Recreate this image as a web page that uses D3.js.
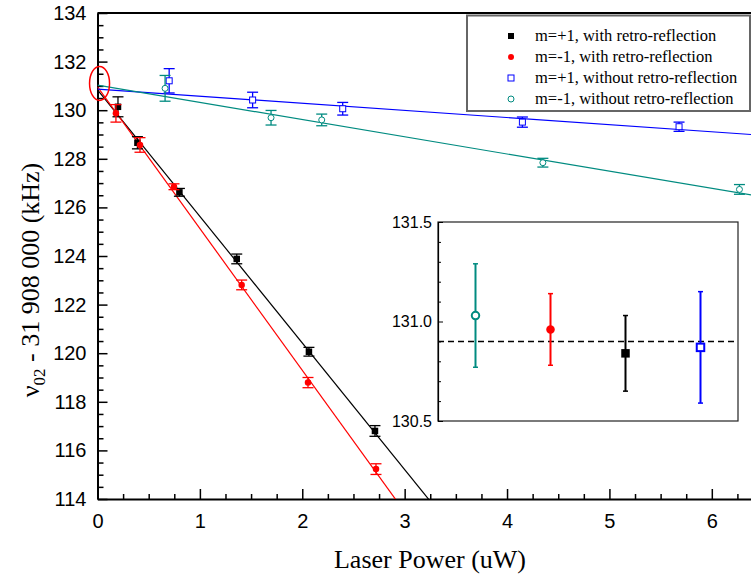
<!DOCTYPE html>
<html>
<head>
<meta charset="utf-8">
<script src="https://cdn.jsdelivr.net/npm/d3@7"></script>
<style>
body { margin: 0; background: #fff; }
</style>
</head>
<body>
<script>
var w = 751;
var h = 578;

// m=+1, with retro-reflection
var powerPlusRetro = [0.20, 0.39, 0.80, 1.36, 2.065, 2.71];
var freqPlusRetro = [130.14, 128.66, 126.62, 123.88, 120.06, 116.80];
var errPlusRetro = [0.41, 0.25, 0.16, 0.20, 0.18, 0.22];

// m=-1, with retro-reflection
var powerMinusRetro = [0.18, 0.415, 0.747, 1.408, 2.056, 2.72];
var freqMinusRetro = [129.87, 128.57, 126.85, 122.81, 118.79, 115.23];
var errMinusRetro = [0.36, 0.30, 0.12, 0.20, 0.21, 0.22];

// m=+1, without retro-reflection
var powerPlusNoRetro = [0.70, 1.515, 2.395, 4.15, 5.68];
var freqPlusNoRetro = [131.21, 130.42, 130.06, 129.51, 129.32];
var errPlusNoRetro = [0.50, 0.32, 0.26, 0.21, 0.19];

// m=-1, without retro-reflection
var powerMinusNoRetro = [0.66, 1.695, 2.19, 4.35, 6.27];
var freqMinusNoRetro = [130.90, 129.69, 129.60, 127.84, 126.74];
var errMinusNoRetro = [0.53, 0.30, 0.24, 0.18, 0.20];

var seriesNames = ["m=+1, with retro-reflection", "m=-1, with retro-reflection",
  "m=+1, without retro-reflection", "m=-1, without retro-reflection"];
var fitSlopes = [-5.21, -5.83, -0.293, -0.708];

// inset: zero-power intercepts
var insetCats = ["m=-1, without retro-reflection", "m=-1, with retro-reflection",
  "m=+1, with retro-reflection", "m=+1, without retro-reflection"];
var insetValues = [131.03, 130.96, 130.84, 130.87];
var insetErrors = [0.26, 0.18, 0.19, 0.28];
var insetMean = 130.90;

var xTicks = [0, 1, 2, 3, 4, 5, 6];
var yTicks = [114, 116, 118, 120, 122, 124, 126, 128, 130, 132, 134];

var colors = ["#000000", "#ff0000", "#0000ff", "#008b80"];
var shapes = ["square", "circle", "square", "circle"];
var filled = [true, true, false, false];

var series = [
  {x: powerPlusRetro, y: freqPlusRetro, e: errPlusRetro},
  {x: powerMinusRetro, y: freqMinusRetro, e: errMinusRetro},
  {x: powerPlusNoRetro, y: freqPlusNoRetro, e: errPlusNoRetro},
  {x: powerMinusNoRetro, y: freqMinusNoRetro, e: errMinusNoRetro}
].map(function(s, i) {
  return {
    name: seriesNames[i], color: colors[i], shape: shapes[i], filled: filled[i],
    slope: fitSlopes[i],
    intercept: insetValues[insetCats.indexOf(seriesNames[i])],
    points: s.x.map(function(x, j) { return {x: x, y: s.y[j], e: s.e[j]}; })
  };
});

var sans = "'Liberation Sans', Arial, sans-serif";
var serif = "'Liberation Serif', 'Times New Roman', serif";

var xScale = d3.scaleLinear().domain([0, 6.5]).range([97.5, 763]);
var yScale = d3.scaleLinear().domain([114, 134]).range([499, 13]);

var svg = d3.select("body").append("svg")
  .attr("width", w)
  .attr("height", h);

svg.append("defs").append("clipPath").attr("id", "plotclip")
  .append("rect")
  .attr("x", xScale(0)).attr("y", yScale(134))
  .attr("width", xScale(6.5) - xScale(0))
  .attr("height", yScale(114) - yScale(134));

// axes
var xAxis = d3.axisBottom(xScale).tickValues(xTicks).tickSize(-10).tickSizeOuter(0)
  .tickPadding(15).tickFormat(d3.format("d"));
var xMinor = d3.axisBottom(xScale)
  .tickValues(d3.range(0, 26).map(function(i) { return i * 0.25; }).filter(function(v) { return v % 1 !== 0; }))
  .tickSize(-5).tickFormat("");
var yAxis = d3.axisLeft(yScale).tickValues(yTicks).tickSize(-10).tickSizeOuter(0)
  .tickPadding(11).tickFormat(d3.format("d"));
var yMinor = d3.axisLeft(yScale)
  .tickValues(d3.range(0, 41).map(function(i) { return 114 + i * 0.5; }).filter(function(v) { return v % 2 !== 0; }))
  .tickSize(-6).tickFormat("");

function styleAxis(g, size) {
  g.selectAll("text").attr("font-family", sans).attr("font-size", size).attr("fill", "#000");
  g.selectAll("line").attr("stroke", "#000").attr("stroke-width", 1.5);
  g.select(".domain").attr("stroke", "#000").attr("stroke-width", 2);
}

svg.append("g").attr("transform", "translate(0,499)").call(xMinor)
  .call(function(g) { g.select(".domain").remove(); g.selectAll("line").attr("stroke-width", 1.5); });
svg.append("g").attr("transform", "translate(97.5,0)").call(yMinor)
  .call(function(g) { g.select(".domain").remove(); g.selectAll("line").attr("stroke-width", 1.5); });
svg.append("g").attr("transform", "translate(0,499)").call(xAxis).call(styleAxis, 20);
svg.append("g").attr("transform", "translate(97.5,0)").call(yAxis).call(styleAxis, 20);

svg.append("line")
  .attr("x1", xScale(0)).attr("x2", xScale(6.5))
  .attr("y1", yScale(134)).attr("y2", yScale(134))
  .attr("stroke", "#000").attr("stroke-width", 2);

// fit lines
svg.append("g").attr("clip-path", "url(#plotclip)")
  .selectAll("line")
  .data(series)
  .enter()
  .append("line")
  .attr("x1", xScale(0))
  .attr("y1", function(d) { return yScale(d.intercept); })
  .attr("x2", xScale(6.5))
  .attr("y2", function(d) { return yScale(d.intercept + d.slope * 6.5); })
  .attr("stroke", function(d) { return d.color; })
  .attr("stroke-width", 1.2);

function drawMarker(g, shape, color, fill, size, sw) {
  if (shape === "square") {
    g.append("rect")
      .attr("x", -size / 2).attr("y", -size / 2)
      .attr("width", size).attr("height", size)
      .attr("fill", fill ? color : "#fff")
      .attr("stroke", color).attr("stroke-width", fill ? 0 : sw);
  } else {
    g.append("circle")
      .attr("r", size / 2)
      .attr("fill", fill ? color : "#fff")
      .attr("stroke", color).attr("stroke-width", fill ? 0 : sw);
  }
}

// points with error bars
series.forEach(function(s) {
  var g = svg.append("g");
  var pts = g.selectAll("g.pt")
    .data(s.points)
    .enter()
    .append("g")
    .attr("class", "pt");
  pts.append("line")
    .attr("x1", function(d) { return xScale(d.x); })
    .attr("x2", function(d) { return xScale(d.x); })
    .attr("y1", function(d) { return yScale(d.y + d.e); })
    .attr("y2", function(d) { return yScale(d.y - d.e); })
    .attr("stroke", s.color).attr("stroke-width", 1.3);
  [1, -1].forEach(function(sg) {
    pts.append("line")
      .attr("x1", function(d) { return xScale(d.x) - 5.5; })
      .attr("x2", function(d) { return xScale(d.x) + 5.5; })
      .attr("y1", function(d) { return yScale(d.y + sg * d.e); })
      .attr("y2", function(d) { return yScale(d.y + sg * d.e); })
      .attr("stroke", s.color).attr("stroke-width", 1.3);
  });
  pts.each(function(d) {
    var m = d3.select(this).append("g")
      .attr("transform", "translate(" + xScale(d.x) + "," + yScale(d.y) + ")");
    drawMarker(m, s.shape, s.color, s.filled, s.filled ? 6.5 : 6, 1);
  });
});

// red ellipse marking the zero-power intercept
svg.append("ellipse")
  .attr("cx", xScale(0.02)).attr("cy", yScale(131.1))
  .attr("rx", 10).attr("ry", 17)
  .attr("fill", "none").attr("stroke", "#ff0000").attr("stroke-width", 1.5);

// legend
var legend = svg.append("g");
legend.append("rect")
  .attr("x", 467).attr("y", 15.5)
  .attr("width", 283).attr("height", 95.5)
  .attr("fill", "#fff").attr("stroke", "#666").attr("stroke-width", 2);
var items = legend.selectAll("g.item")
  .data(series)
  .enter()
  .append("g")
  .attr("class", "item")
  .attr("transform", function(d, i) { return "translate(511," + (36 + i * 21) + ")"; });
items.each(function(d) {
  drawMarker(d3.select(this), d.shape, d.color, d.filled, d.filled ? 6 : 6, 1);
});
items.append("text")
  .attr("x", 24).attr("dy", "0.33em")
  .attr("font-family", serif).attr("font-size", 16.5)
  .text(function(d) { return d.name; });

// axis titles
svg.append("text")
  .attr("x", 430).attr("y", 568)
  .attr("text-anchor", "middle")
  .attr("font-family", serif).attr("font-size", 26)
  .text("Laser Power (uW)");

var yt = svg.append("text")
  .attr("transform", "translate(38.5,280) rotate(-90)")
  .attr("text-anchor", "middle")
  .attr("font-family", serif).attr("font-size", 26);
yt.append("tspan").text("\u03bd");
yt.append("tspan").attr("font-size", 17).attr("dy", 6).text("02");
yt.append("tspan").attr("dy", -6).text(" - 31 908 000 (kHz)");

// inset
var insetX = d3.scalePoint().domain(insetCats).range([438, 738]).padding(0.5);
var insetY = d3.scaleLinear().domain([130.5, 131.5]).range([421, 222]);

var inset = svg.append("g");
inset.append("rect")
  .attr("x", 438).attr("y", 222)
  .attr("width", 300).attr("height", 199)
  .attr("fill", "#fff").attr("stroke", "#222").attr("stroke-width", 1.2);

inset.append("g").attr("transform", "translate(438,0)")
  .call(d3.axisLeft(insetY).tickValues([130.6, 130.7, 130.8, 130.9, 131.1, 131.2, 131.3, 131.4])
    .tickSize(-3).tickFormat(""))
  .call(function(g) { g.select(".domain").remove(); g.selectAll("line").attr("stroke", "#000"); });
inset.append("g").attr("transform", "translate(438,0)")
  .call(d3.axisLeft(insetY).tickValues([130.5, 131.0, 131.5]).tickSize(-5).tickSizeOuter(0)
    .tickPadding(6).tickFormat(d3.format(".1f")))
  .call(styleAxis, 16)
  .call(function(g) { g.select(".domain").attr("stroke-width", 1.2); g.selectAll("line").attr("stroke-width", 1); });

inset.append("line")
  .attr("x1", 438).attr("x2", 738)
  .attr("y1", insetY(insetMean)).attr("y2", insetY(insetMean))
  .attr("stroke", "#000").attr("stroke-width", 1.5).attr("stroke-dasharray", "6,4");

insetCats.forEach(function(c, i) {
  var s = series[seriesNames.indexOf(c)];
  var x = insetX(c);
  var g = inset.append("g");
  g.append("line")
    .attr("x1", x).attr("x2", x)
    .attr("y1", insetY(insetValues[i] + insetErrors[i]))
    .attr("y2", insetY(insetValues[i] - insetErrors[i]))
    .attr("stroke", s.color).attr("stroke-width", 2);
  [1, -1].forEach(function(sg) {
    g.append("line")
      .attr("x1", x - 2.5).attr("x2", x + 2.5)
      .attr("y1", insetY(insetValues[i] + sg * insetErrors[i]))
      .attr("y2", insetY(insetValues[i] + sg * insetErrors[i]))
      .attr("stroke", s.color).attr("stroke-width", 1.5);
  });
  var m = g.append("g").attr("transform", "translate(" + x + "," + insetY(insetValues[i]) + ")");
  drawMarker(m, s.shape, s.color, s.filled, s.filled ? 8.5 : 7.5, 2);
});
</script>
</body>
</html>
